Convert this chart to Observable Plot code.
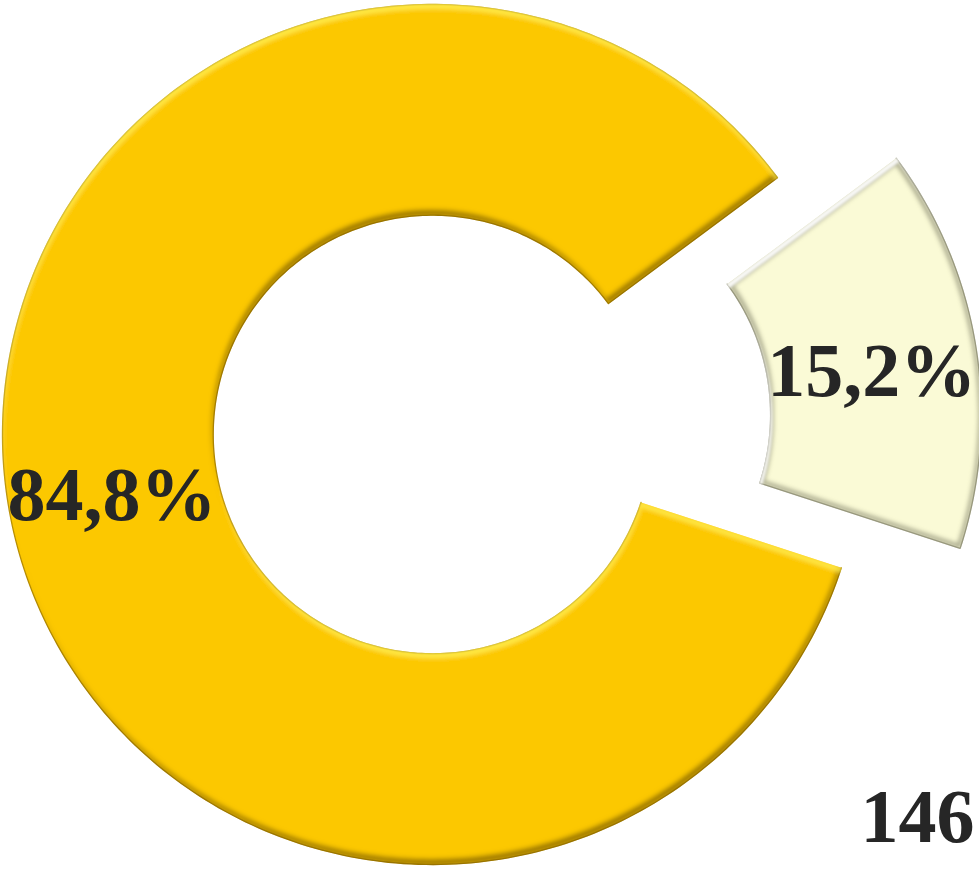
<!DOCTYPE html>
<html>
<head>
<meta charset="utf-8">
<script src="https://cdn.jsdelivr.net/npm/d3@7"></script>
<script src="https://cdn.jsdelivr.net/npm/@observablehq/plot@0.6"></script>
<style>
  html, body { margin: 0; padding: 0; background: #ffffff; overflow: hidden; }
  #chart svg { display: block; }
</style>
</head>
<body>
<div id="chart"></div>
<script>
// ---- data ----
const categories = ["Part A", "Part B"];
const shares = [84.8, 15.2];              // percent
const shareLabels = ["84,8%", "15,2%"];
const exploded = [false, true];
const sliceColors = ["#FCC800", "#FAFAD6"];
const outsideLabels = ["146"];

// ---- layout / style constants ----
const W = 979, H = 871;
const CX = 432, CY = 434, RPX = 430;      // pixel centre and outer radius
const innerRatio = 0.51;
const explodeDist = 0.28;                 // in outer-radius units
const gapCenterDeg = 80.7;                // bearing of the exploded slice centre

// ---- build slice geometry from the values ----
const total = d3.sum(shares);
const spans = shares.map(v => v / total * 360);
const cum = [0];
spans.forEach((s, i) => cum.push(cum[i] + s));
const rot = gapCenterDeg - (cum[1] + spans[1] / 2);
const rad = a => a * Math.PI / 180;

const slices = categories.map((c, i) => {
  const a0 = cum[i] + rot, a1 = cum[i + 1] + rot, mid = (a0 + a1) / 2;
  const off = exploded[i] ? explodeDist : 0;
  return {cat: c, a0, a1, mid, ox: off * Math.sin(rad(mid)), oy: off * Math.cos(rad(mid)), label: shareLabels[i]};
});

const pts = [];
slices.forEach(s => {
  const n = Math.max(8, Math.ceil((s.a1 - s.a0) / 1));
  for (let k = 0; k <= n; k++) {
    const a = rad(s.a0 + (s.a1 - s.a0) * k / n);
    pts.push({cat: s.cat, x: s.ox + Math.sin(a), y: s.oy + Math.cos(a)});
  }
  for (let k = n; k >= 0; k--) {
    const a = rad(s.a0 + (s.a1 - s.a0) * k / n);
    pts.push({cat: s.cat, x: s.ox + innerRatio * Math.sin(a), y: s.oy + innerRatio * Math.cos(a)});
  }
});

const midR = (1 + innerRatio) / 2;
const labelData = slices.map(s => ({
  cat: s.cat, text: s.label,
  x: s.ox + midR * Math.sin(rad(s.mid)),
  y: s.oy + midR * Math.cos(rad(s.mid))
}));

const font = "'Liberation Serif', 'Times New Roman', 'DejaVu Serif', serif";

const chart = Plot.plot({
  width: W, height: H, margin: 0,
  style: {background: "#ffffff", overflow: "visible"},
  x: {domain: [-CX / RPX, (W - CX) / RPX], axis: null},
  y: {domain: [(CY - H) / RPX, CY / RPX], axis: null},
  color: {domain: categories, range: sliceColors},
  marks: [
    Plot.line(pts.filter(p => p.cat === categories[0]), {x: "x", y: "y", fill: "cat", stroke: "#B88E00", strokeWidth: 1.3, curve: "linear", className: "slice-a"}),
    Plot.line(pts.filter(p => p.cat === categories[1]), {x: "x", y: "y", fill: "cat", stroke: "#A3A388", strokeWidth: 1.3, curve: "linear", className: "slice-b"}),
    Plot.text(labelData, {x: "x", y: "y", text: "text", fontFamily: font, fontWeight: "bold", fontSize: 76, fill: "#262626", dy: 9}),
    Plot.text(outsideLabels, {text: d => d, frameAnchor: "bottom-right", textAnchor: "end", lineAnchor: "bottom", dx: -5, dy: -30, fontFamily: font, fontWeight: "bold", fontSize: 76, fill: "#262626"})
  ]
});

// bevel filters
const defs = `
<defs>
  <filter id="bevelGold" x="-5%" y="-5%" width="110%" height="110%">
    <feOffset in="SourceAlpha" dx="-2" dy="-6" result="up"/>
    <feComposite in="SourceAlpha" in2="up" operator="out" result="e1"/>
    <feGaussianBlur in="e1" stdDeviation="2.5" result="e1b"/>
    <feComposite in="e1b" in2="SourceAlpha" operator="in" result="e1m"/>
    <feFlood flood-color="#6e5000" flood-opacity="0.85"/>
    <feComposite in2="e1m" operator="in" result="shadow"/>
    <feOffset in="SourceAlpha" dx="1" dy="5" result="down"/>
    <feComposite in="SourceAlpha" in2="down" operator="out" result="e2"/>
    <feGaussianBlur in="e2" stdDeviation="2" result="e2b"/>
    <feComposite in="e2b" in2="SourceAlpha" operator="in" result="e2m"/>
    <feFlood flood-color="#FFF04A" flood-opacity="0.9"/>
    <feComposite in2="e2m" operator="in" result="light"/>
    <feMerge><feMergeNode in="SourceGraphic"/><feMergeNode in="shadow"/><feMergeNode in="light"/></feMerge>
  </filter>
  <filter id="bevelCream" x="-5%" y="-5%" width="110%" height="110%">
    <feMorphology in="SourceAlpha" operator="erode" radius="4" result="er"/>
    <feComposite in="SourceAlpha" in2="er" operator="out" result="rim"/>
    <feGaussianBlur in="rim" stdDeviation="2.2" result="rimb"/>
    <feComposite in="rimb" in2="SourceAlpha" operator="in" result="rimm"/>
    <feFlood flood-color="#8a8a70" flood-opacity="0.75"/>
    <feComposite in2="rimm" operator="in" result="shadow"/>
    <feOffset in="SourceAlpha" dx="2" dy="4" result="down"/>
    <feComposite in="SourceAlpha" in2="down" operator="out" result="e2"/>
    <feGaussianBlur in="e2" stdDeviation="1.5" result="e2b"/>
    <feComposite in="e2b" in2="SourceAlpha" operator="in" result="e2m"/>
    <feFlood flood-color="#ffffff" flood-opacity="0.95"/>
    <feComposite in2="e2m" operator="in" result="light"/>
    <feMerge><feMergeNode in="SourceGraphic"/><feMergeNode in="shadow"/><feMergeNode in="light"/></feMerge>
  </filter>
</defs>`;
const svg = d3.select(chart);
svg.insert(() => new DOMParser().parseFromString(`<svg xmlns="http://www.w3.org/2000/svg">${defs}</svg>`, "image/svg+xml").documentElement.firstElementChild, ":first-child");
svg.select(".slice-a").attr("filter", "url(#bevelGold)");
svg.select(".slice-b").attr("filter", "url(#bevelCream)");

document.getElementById("chart").appendChild(chart);
</script>
</body>
</html>
